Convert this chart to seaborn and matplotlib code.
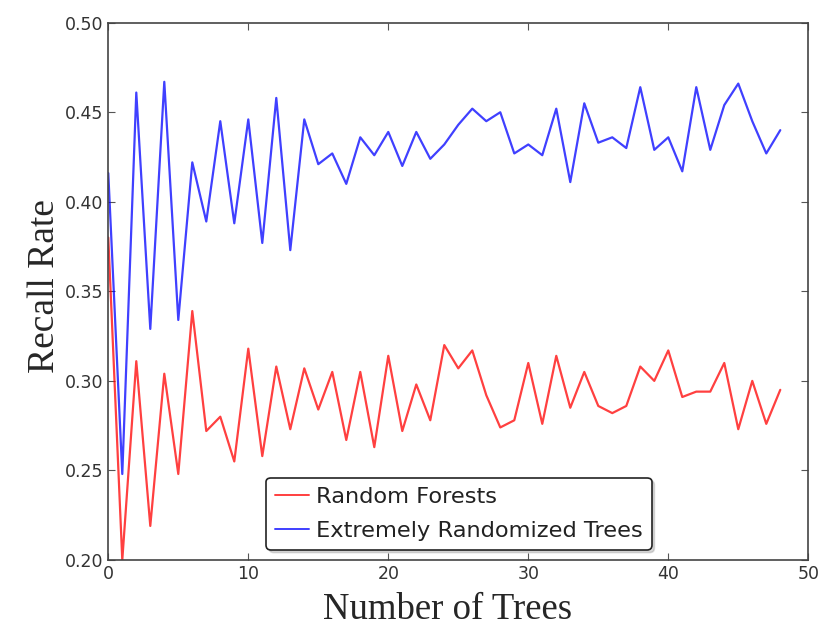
import numpy as np
import pandas as pd
import seaborn as sns
import matplotlib
matplotlib.use("Agg")
import matplotlib.pyplot as plt

# recall rate per number of trees
n_trees = list(range(49))
random_forests = [0.380, 0.200, 0.311, 0.219, 0.304, 0.248, 0.339, 0.272, 0.280, 0.255,
                  0.318, 0.258, 0.308, 0.273, 0.307, 0.284, 0.305, 0.267, 0.305, 0.263,
                  0.314, 0.272, 0.298, 0.278, 0.320, 0.307, 0.317, 0.292, 0.274, 0.278,
                  0.310, 0.276, 0.314, 0.285, 0.305, 0.286, 0.282, 0.286, 0.308, 0.300,
                  0.317, 0.291, 0.294, 0.294, 0.310, 0.273, 0.300, 0.276, 0.295]
extra_trees = [0.416, 0.248, 0.461, 0.329, 0.467, 0.334, 0.422, 0.389, 0.445, 0.388,
               0.446, 0.377, 0.458, 0.373, 0.446, 0.421, 0.427, 0.410, 0.436, 0.426,
               0.439, 0.420, 0.439, 0.424, 0.432, 0.443, 0.452, 0.445, 0.450, 0.427,
               0.432, 0.426, 0.452, 0.411, 0.455, 0.433, 0.436, 0.430, 0.464, 0.429,
               0.436, 0.417, 0.464, 0.429, 0.454, 0.466, 0.445, 0.427, 0.440]

df = pd.DataFrame({
    "trees": n_trees * 2,
    "recall": random_forests + extra_trees,
    "model": ["Random Forests"] * len(n_trees) + ["Extremely Randomized Trees"] * len(n_trees),
})

sns.set_style("ticks")
plt.rcParams["font.family"] = ["DejaVu Sans"]

fig = plt.figure(figsize=(8.21, 6.27), dpi=100)
ax = fig.add_axes([0.1319, 0.1069, 0.8526, 0.8569])

sns.lineplot(data=df, x="trees", y="recall", hue="model",
             palette={"Random Forests": "red", "Extremely Randomized Trees": "blue"},
             linewidth=1.6, alpha=0.75, ax=ax)

ax.set_xlim(0, 50)
ax.set_ylim(0.20, 0.50)
ax.set_xticks([0, 10, 20, 30, 40, 50])
ax.set_yticks(np.arange(0.20, 0.501, 0.05))
ax.yaxis.set_major_formatter(matplotlib.ticker.FormatStrFormatter("%.2f"))
ax.tick_params(direction="in", top=True, right=True, labelsize=12.5, length=5,
               color="#555555", labelcolor="#333333")
for s in ax.spines.values():
    s.set_color("#444444")
    s.set_linewidth(1.2)

ax.set_xlabel("Number of Trees", family="Liberation Serif", fontsize=26.5, labelpad=7)
ax.set_ylabel("Recall Rate", family="Liberation Serif", fontsize=27, labelpad=2)
ax.xaxis.label.set_x(0.485)
ax.yaxis.label.set_y(0.51)

leg = ax.legend(loc="lower center", bbox_to_anchor=(0.501, 0.019), borderaxespad=0,
                fontsize=16.2, frameon=True, fancybox=True,
                shadow={"alpha": 0.2},
                handlelength=1.5, handletextpad=0.3, borderpad=0.4, labelspacing=0.62,
                edgecolor="#222222", framealpha=1)
leg.get_frame().set_linewidth(1.2)
for line in leg.get_lines():
    line.set_linewidth(1.4)
for t in leg.get_texts():
    t.set_color("#222222")

fig.savefig("out.png", dpi=100)
